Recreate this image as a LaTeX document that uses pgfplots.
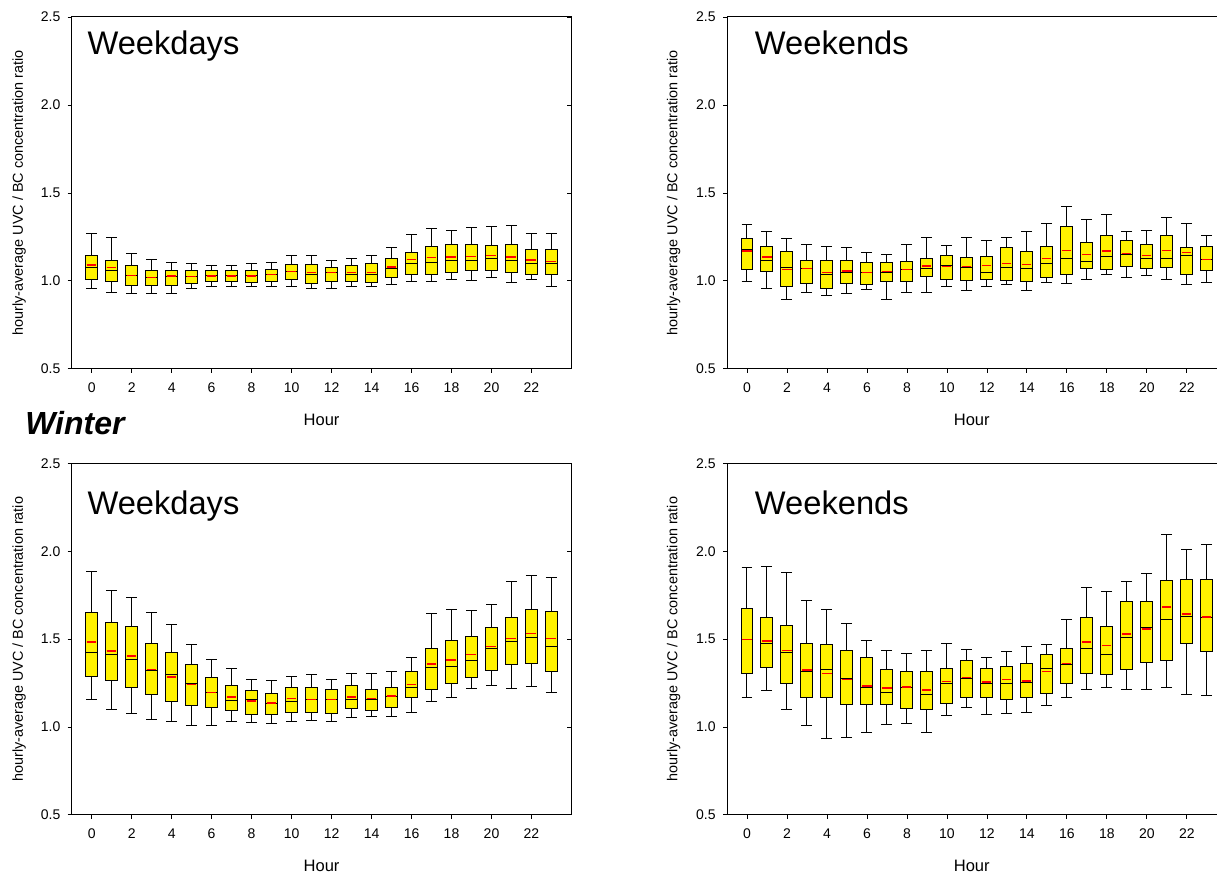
\documentclass[border=0pt]{standalone}
\usepackage{fontspec}
\setmainfont{Liberation Sans}
\usepackage{pgfplots}
\usepackage{pgfplotstable}
\pgfplotsset{compat=1.18}
\usepgfplotslibrary{statistics}

% columns: hour, lower whisker, lower quartile, median, mean, upper quartile, upper whisker
\pgfplotstableread{
h lw lq med avg uq uw
0 0.958 1.010 1.078 1.091 1.146 1.267
1 0.936 0.998 1.059 1.076 1.117 1.246
2 0.926 0.975 1.028 1.032 1.087 1.157
3 0.926 0.975 1.019 1.021 1.057 1.119
4 0.928 0.975 1.025 1.027 1.061 1.106
5 0.958 0.987 1.025 1.023 1.057 1.097
6 0.966 0.998 1.028 1.028 1.057 1.087
7 0.966 0.998 1.028 1.028 1.057 1.087
8 0.966 0.991 1.028 1.028 1.057 1.097
9 0.968 0.998 1.038 1.038 1.066 1.104
10 0.970 1.008 1.051 1.053 1.095 1.144
11 0.958 0.987 1.038 1.047 1.095 1.146
12 0.958 0.998 1.047 1.047 1.078 1.117
13 0.968 0.998 1.038 1.049 1.089 1.129
14 0.968 0.992 1.038 1.046 1.097 1.146
15 0.977 1.017 1.068 1.078 1.127 1.187
16 0.998 1.038 1.097 1.123 1.161 1.265
17 0.998 1.038 1.106 1.132 1.195 1.297
18 1.008 1.047 1.117 1.136 1.206 1.286
19 1.000 1.057 1.117 1.140 1.208 1.305
20 1.017 1.057 1.129 1.146 1.199 1.307
21 0.989 1.047 1.117 1.136 1.208 1.314
22 1.008 1.038 1.097 1.119 1.176 1.267
23 0.968 1.038 1.100 1.112 1.176 1.267
}\dataTL

\pgfplotstableread{
h lw lq med avg uq uw
0 0.996 1.066 1.180 1.169 1.239 1.318
1 0.956 1.055 1.117 1.135 1.197 1.278
2 0.896 0.970 1.078 1.066 1.167 1.239
3 0.936 0.987 1.068 1.072 1.117 1.208
4 0.917 0.958 1.038 1.049 1.117 1.197
5 0.928 0.987 1.049 1.057 1.117 1.189
6 0.953 0.977 1.049 1.047 1.106 1.159
7 0.896 0.996 1.049 1.053 1.106 1.148
8 0.936 0.996 1.063 1.064 1.110 1.208
9 0.936 1.027 1.068 1.085 1.129 1.248
10 0.968 1.008 1.087 1.083 1.146 1.199
11 0.947 1.002 1.078 1.083 1.135 1.248
12 0.968 1.010 1.049 1.087 1.138 1.229
13 0.977 1.004 1.074 1.100 1.189 1.248
14 0.947 0.998 1.068 1.093 1.169 1.280
15 0.989 1.017 1.099 1.129 1.197 1.328
16 0.985 1.038 1.125 1.174 1.311 1.420
17 1.008 1.068 1.108 1.150 1.218 1.348
18 1.038 1.066 1.138 1.170 1.258 1.377
19 1.019 1.080 1.148 1.155 1.229 1.278
20 1.028 1.068 1.129 1.146 1.208 1.288
21 1.006 1.076 1.129 1.174 1.260 1.362
22 0.979 1.038 1.142 1.163 1.189 1.326
23 0.989 1.057 1.119 1.123 1.197 1.260
}\dataTR

\pgfplotstableread{
h lw lq med avg uq uw
0 1.155 1.286 1.427 1.484 1.655 1.885
1 1.098 1.265 1.415 1.433 1.596 1.778
2 1.079 1.225 1.387 1.404 1.575 1.735
3 1.040 1.184 1.324 1.328 1.478 1.655
4 1.030 1.144 1.296 1.284 1.427 1.586
5 1.010 1.123 1.246 1.241 1.358 1.467
6 1.010 1.113 1.195 1.195 1.281 1.385
7 1.030 1.096 1.153 1.170 1.237 1.334
8 1.025 1.073 1.155 1.148 1.205 1.271
9 1.020 1.073 1.134 1.136 1.193 1.265
10 1.030 1.085 1.146 1.161 1.227 1.286
11 1.035 1.085 1.155 1.157 1.227 1.296
12 1.030 1.074 1.154 1.155 1.216 1.271
13 1.055 1.104 1.155 1.170 1.237 1.305
14 1.058 1.094 1.155 1.163 1.216 1.303
15 1.058 1.113 1.176 1.176 1.227 1.315
16 1.085 1.165 1.225 1.241 1.315 1.394
17 1.146 1.216 1.336 1.358 1.448 1.647
18 1.170 1.245 1.347 1.381 1.495 1.668
19 1.220 1.284 1.376 1.411 1.516 1.666
20 1.237 1.324 1.448 1.459 1.569 1.698
21 1.220 1.353 1.488 1.503 1.626 1.829
22 1.233 1.364 1.507 1.533 1.670 1.866
23 1.199 1.315 1.461 1.503 1.657 1.849
}\dataBL

\pgfplotstableread{
h lw lq med avg uq uw
0 1.167 1.307 1.497 1.497 1.676 1.909
1 1.210 1.336 1.476 1.490 1.626 1.915
2 1.102 1.246 1.427 1.436 1.577 1.883
3 1.007 1.167 1.315 1.324 1.478 1.721
4 0.935 1.167 1.326 1.303 1.467 1.672
5 0.940 1.125 1.275 1.269 1.436 1.590
6 0.967 1.125 1.226 1.233 1.396 1.493
7 1.013 1.125 1.195 1.222 1.326 1.433
8 1.022 1.106 1.226 1.227 1.315 1.421
9 0.970 1.098 1.187 1.210 1.315 1.436
10 1.064 1.136 1.246 1.258 1.334 1.474
11 1.112 1.167 1.277 1.281 1.376 1.444
12 1.068 1.166 1.246 1.257 1.334 1.397
13 1.075 1.155 1.245 1.269 1.345 1.431
14 1.080 1.165 1.256 1.262 1.364 1.459
15 1.123 1.193 1.334 1.315 1.414 1.471
16 1.170 1.245 1.355 1.362 1.446 1.611
17 1.212 1.307 1.446 1.484 1.626 1.795
18 1.222 1.296 1.415 1.465 1.575 1.771
19 1.216 1.326 1.510 1.529 1.716 1.828
20 1.212 1.366 1.567 1.558 1.716 1.877
21 1.227 1.377 1.615 1.683 1.837 2.095
22 1.186 1.476 1.630 1.643 1.841 2.014
23 1.180 1.429 1.621 1.627 1.841 2.042
}\dataBR

\newcommand{\drawboxes}[1]{%
  \pgfplotsinvokeforeach{0,...,23}{%
    \pgfplotstablegetelem{##1}{lw}\of#1\let\vlw\pgfplotsretval
    \pgfplotstablegetelem{##1}{lq}\of#1\let\vlq\pgfplotsretval
    \pgfplotstablegetelem{##1}{med}\of#1\let\vmed\pgfplotsretval
    \pgfplotstablegetelem{##1}{avg}\of#1\let\vavg\pgfplotsretval
    \pgfplotstablegetelem{##1}{uq}\of#1\let\vuq\pgfplotsretval
    \pgfplotstablegetelem{##1}{uw}\of#1\let\vuw\pgfplotsretval
    \edef\doplot{\noexpand\addplot[bx, boxplot prepared={draw position=##1,
      lower whisker=\vlw, lower quartile=\vlq, median=\vmed, average=\vavg,
      upper quartile=\vuq, upper whisker=\vuw}] coordinates {};}%
    \doplot
  }%
}

\pgfplotsset{
  bx/.style={solid, draw=black, fill=yellow, line width=0.75pt, mark=none,
    boxplot/draw direction=y, boxplot/box extend=0.6, boxplot/whisker extend=0.55,
    boxplot/every median/.style={black, line width=0.75pt},
    boxplot/draw/average/.code={\draw[red, line width=1pt]
      (boxplot box cs:\pgfplotsboxplotvalue{average},0.08) --
      (boxplot box cs:\pgfplotsboxplotvalue{average},0.88);}},
  panel/.style={scale only axis, anchor=south west,
    ymin=0.5, ymax=2.5, xmin=-1,
    xtick={0,2,...,22}, ytick={0.5,1,...,2.5},
    tick align=outside,
    major tick length=3pt, minor tick num=0,
    tick style={black, line width=0.6pt},
    axis line style={black, line width=0.75pt},
    /pgf/number format/assume math mode=true,
    ticklabel style={font=\fontsize{10.5}{12}\selectfont},
    yticklabel style={/pgf/number format/fixed, /pgf/number format/fixed zerofill,
      /pgf/number format/precision=1, xshift=-2pt},
    xticklabel style={yshift=-4pt},
    xlabel={Hour},
    xlabel style={font=\fontsize{12.4}{14}\selectfont,
      at={(axis description cs:0.5,-0.145)}, anchor=center},
    ylabel={hourly-average UVC / BC concentration ratio},
    ylabel style={font=\fontsize{10.8}{12}\selectfont, anchor=center},
  },
  leftpanel/.style={panel, width=375pt, xmax=24,
    xtick pos=bottom, ytick pos=left,
    ylabel style={at={(axis description cs:-0.105,0.5)}}},
  rightpanel/.style={panel, width=367.3pt, xmax=23.485,
    axis x line*=box, axis y line*=left,
    xtick pos=bottom, ytick pos=left,
    ylabel style={at={(axis description cs:-0.1088,0.5)}}},
  rticks/.style={scale only axis, width=375pt, anchor=south west,
    xmin=-1, xmax=24, ymin=0.5, ymax=2.5,
    ytick={0.5,1,...,2.5}, yticklabels={}, xtick=\empty,
    ytick pos=right, tick align=inside, major tick length=3pt,
    tick style={black, line width=0.6pt}, axis line style={draw=none}},
}

\begin{document}
\begin{tikzpicture}
\path (0,0) rectangle (912.75pt,653.25pt);

% top left
\begin{axis}[leftpanel, height=264pt, at={(53.8pt,376.5pt)}]
\drawboxes{\dataTL}
\end{axis}
\begin{axis}[rticks, height=264pt, at={(53.8pt,376.5pt)}]
\addplot[draw=none] coordinates {(0,1)};
\end{axis}

% top right
\begin{axis}[rightpanel, height=264pt, at={(545.5pt,376.5pt)}]
\drawboxes{\dataTR}
\end{axis}

% bottom left
\begin{axis}[leftpanel, height=263.25pt, at={(53.8pt,42pt)}]
\drawboxes{\dataBL}
\end{axis}
\begin{axis}[rticks, height=263.25pt, at={(53.8pt,42pt)}]
\addplot[draw=none] coordinates {(0,1)};
\end{axis}

% bottom right
\begin{axis}[rightpanel, height=263.25pt, at={(545.5pt,42pt)}]
\drawboxes{\dataBR}
\end{axis}

\node[anchor=base west, font=\fontsize{24.5}{28}\selectfont, inner sep=0pt] at (65.5pt,612pt) {Weekdays};
\node[anchor=base west, font=\fontsize{24.5}{28}\selectfont, inner sep=0pt] at (566.3pt,612pt) {Weekends};
\node[anchor=base west, font=\fontsize{24.5}{28}\selectfont, inner sep=0pt] at (65.5pt,267pt) {Weekdays};
\node[anchor=base west, font=\fontsize{24.5}{28}\selectfont, inner sep=0pt] at (566.3pt,267pt) {Weekends};
\node[anchor=base west, font=\fontsize{24}{28}\selectfont\bfseries\itshape, inner sep=0pt] at (18.75pt,327pt) {Winter};
\end{tikzpicture}
\end{document}
